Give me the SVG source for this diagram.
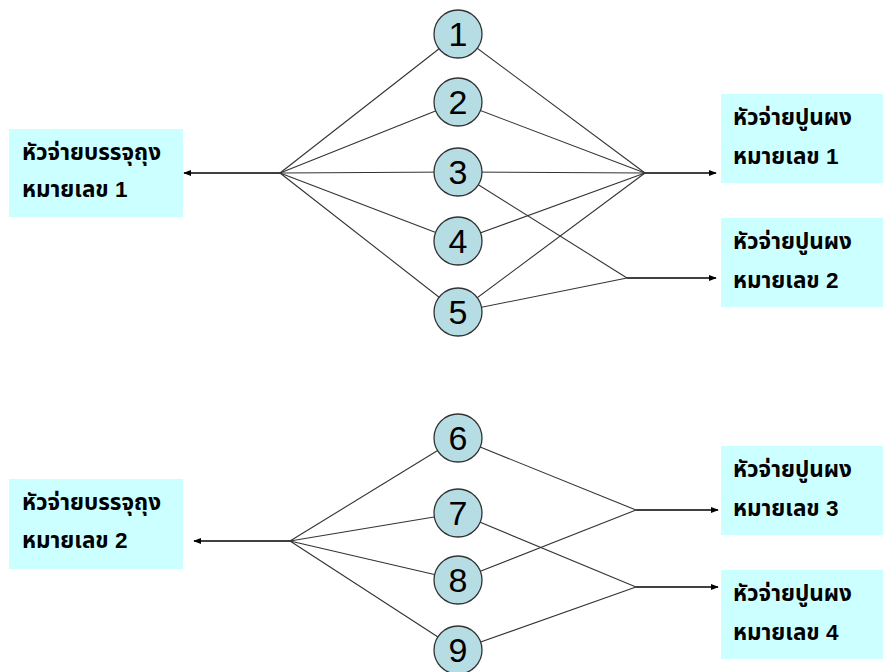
<svg xmlns="http://www.w3.org/2000/svg" width="883" height="672" viewBox="0 0 883 672">
  <style>
    .box { fill: #ccffff; }
    .lbl { font-family: "Liberation Sans", "Noto Sans Thai", "Noto Sans", "DejaVu Sans", sans-serif; font-size: 22.5px; font-weight: bold; fill: #000; }
    .node circle { fill: #b7dde4; stroke: #333; stroke-width: 1.3; }
    .node text { font-family: "Liberation Sans", Arial, sans-serif; font-size: 34px; fill: #000; text-anchor: middle; }
    .wire { stroke: #333; stroke-width: 1.1; fill: none; }
    .arrow { stroke: #000; stroke-width: 1.6; fill: none; marker-end: url(#head); }
  </style>
  <defs>
    <marker id="head" viewBox="0 0 10 10" refX="9" refY="5" markerWidth="8" markerHeight="8" orient="auto" markerUnits="userSpaceOnUse">
      <path d="M0,1 L10,5 L0,9 Z" fill="#000"/>
    </marker>
  </defs>

  <!-- lines between hubs and numbered nodes -->
  <g id="connectors">
    <!-- upper group: left hub -->
    <line class="wire" x1="280" y1="173" x2="458" y2="34"/>
    <line class="wire" x1="280" y1="173" x2="458" y2="102"/>
    <line class="wire" x1="280" y1="173" x2="458" y2="172"/>
    <line class="wire" x1="280" y1="173" x2="458" y2="241"/>
    <line class="wire" x1="280" y1="173" x2="458" y2="312"/>
    <!-- upper group: right hub 1 -->
    <line class="wire" x1="645" y1="173" x2="458" y2="34"/>
    <line class="wire" x1="645" y1="173" x2="458" y2="102"/>
    <line class="wire" x1="645" y1="173" x2="458" y2="172"/>
    <line class="wire" x1="645" y1="173" x2="458" y2="241"/>
    <line class="wire" x1="645" y1="173" x2="458" y2="312"/>
    <!-- upper group: right hub 2 -->
    <line class="wire" x1="627" y1="278" x2="458" y2="172"/>
    <line class="wire" x1="627" y1="278" x2="458" y2="312"/>
    <!-- lower group: left hub -->
    <line class="wire" x1="290" y1="541" x2="458" y2="438"/>
    <line class="wire" x1="290" y1="541" x2="458" y2="513"/>
    <line class="wire" x1="290" y1="541" x2="458" y2="580"/>
    <line class="wire" x1="290" y1="541" x2="458" y2="650"/>
    <!-- lower group: right hubs -->
    <line class="wire" x1="636" y1="510" x2="458" y2="438"/>
    <line class="wire" x1="636" y1="510" x2="458" y2="580"/>
    <line class="wire" x1="636" y1="587" x2="458" y2="513"/>
    <line class="wire" x1="636" y1="587" x2="458" y2="650"/>
    <!-- arrows from hubs to boxes -->
    <line class="arrow" x1="280" y1="173" x2="184" y2="173"/>
    <line class="arrow" x1="645" y1="173" x2="716" y2="173"/>
    <line class="arrow" x1="627" y1="278" x2="716" y2="278"/>
    <line class="arrow" x1="290" y1="541" x2="194" y2="541"/>
    <line class="arrow" x1="636" y1="510" x2="718" y2="510"/>
    <line class="arrow" x1="636" y1="587" x2="718" y2="587"/>
  </g>

  <!-- numbered nodes -->
  <g id="n1" class="node"><circle cx="458" cy="34" r="24"/><text x="458" y="46">1</text></g>
  <g id="n2" class="node"><circle cx="458" cy="102" r="24"/><text x="458" y="114">2</text></g>
  <g id="n3" class="node"><circle cx="458" cy="172" r="24"/><text x="458" y="184">3</text></g>
  <g id="n4" class="node"><circle cx="458" cy="241" r="24"/><text x="458" y="253">4</text></g>
  <g id="n5" class="node"><circle cx="458" cy="312" r="24"/><text x="458" y="324">5</text></g>
  <g id="n6" class="node"><circle cx="458" cy="438" r="24"/><text x="458" y="450">6</text></g>
  <g id="n7" class="node"><circle cx="458" cy="513" r="24"/><text x="458" y="525">7</text></g>
  <g id="n8" class="node"><circle cx="458" cy="580" r="24"/><text x="458" y="592">8</text></g>
  <g id="n9" class="node"><circle cx="458" cy="650" r="24"/><text x="458" y="662">9</text></g>

  <!-- bag dispensers -->
  <g id="bag1">
    <rect class="box" x="9" y="129" width="174" height="88"/>
    <text class="lbl" x="22" y="160">หัวจ่ายบรรจุถุง</text>
    <text class="lbl" x="22" y="197">หมายเลข 1</text>
  </g>
  <g id="bag2">
    <rect class="box" x="9" y="479" width="174" height="90"/>
    <text class="lbl" x="22" y="510">หัวจ่ายบรรจุถุง</text>
    <text class="lbl" x="22" y="548">หมายเลข 2</text>
  </g>

  <!-- bulk dispensers -->
  <g id="bulk1">
    <rect class="box" x="721" y="94" width="162" height="89"/>
    <text class="lbl" x="733" y="125">หัวจ่ายปูนผง</text>
    <text class="lbl" x="733" y="164">หมายเลข 1</text>
  </g>
  <g id="bulk2">
    <rect class="box" x="721" y="218" width="162" height="89"/>
    <text class="lbl" x="733" y="249">หัวจ่ายปูนผง</text>
    <text class="lbl" x="733" y="288">หมายเลข 2</text>
  </g>
  <g id="bulk3">
    <rect class="box" x="721" y="446" width="162" height="89"/>
    <text class="lbl" x="733" y="477">หัวจ่ายปูนผง</text>
    <text class="lbl" x="733" y="516">หมายเลข 3</text>
  </g>
  <g id="bulk4">
    <rect class="box" x="721" y="570" width="162" height="89"/>
    <text class="lbl" x="733" y="601">หัวจ่ายปูนผง</text>
    <text class="lbl" x="733" y="640">หมายเลข 4</text>
  </g>
</svg>
